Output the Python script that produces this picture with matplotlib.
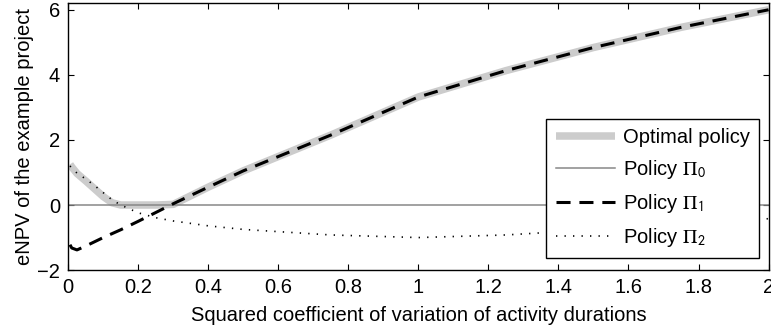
import matplotlib
matplotlib.use("Agg")
import matplotlib.pyplot as plt
import numpy as np

plt.rcParams['font.family'] = ['Liberation Sans', 'DejaVu Sans']
plt.rcParams['mathtext.fontset'] = 'stix'

# squared coefficient of variation (x) and eNPV of each policy
x_opt = [0.005, 0.01, 0.025, 0.05, 0.075, 0.1, 0.125, 0.15, 0.2, 0.25,
         0.3, 0.4, 0.5, 0.75, 1.0, 1.25, 1.5, 1.75, 2.0]
y_opt = [1.25, 1.17, 0.97, 0.74, 0.5, 0.26, 0.07, 0.0, 0.0, 0.0,
         0.02, 0.55, 1.05, 2.15, 3.32, 4.13, 4.84, 5.46, 6.0]

x_p0 = [0.0, 2.0]
y_p0 = [0.0, 0.0]

x_p1 = [0.005, 0.01, 0.025, 0.05, 0.1, 0.15, 0.2, 0.25, 0.3, 0.4, 0.5,
        0.75, 1.0, 1.25, 1.5, 1.75, 2.0]
y_p1 = [-1.22, -1.32, -1.38, -1.26, -1.0, -0.76, -0.5, -0.23, 0.04, 0.55,
        1.05, 2.15, 3.32, 4.13, 4.84, 5.46, 6.0]

x_p2 = [0.005, 0.01, 0.025, 0.05, 0.075, 0.1, 0.125, 0.15, 0.2, 0.25,
        0.3, 0.4, 0.5, 0.75, 1.0, 1.25, 1.5, 1.75, 2.0]
y_p2 = [1.2, 1.14, 0.98, 0.8, 0.6, 0.38, 0.16, 0.0, -0.24, -0.39,
        -0.49, -0.64, -0.75, -0.92, -1.0, -0.92, -0.76, -0.6, -0.42]

x_ticks = [0, 0.2, 0.4, 0.6, 0.8, 1.0, 1.2, 1.4, 1.6, 1.8, 2.0]
x_tick_labels = ['0', '0.2', '0.4', '0.6', '0.8', '1', '1.2', '1.4',
                 '1.6', '1.8', '2']
y_ticks = [-2, 0, 2, 4, 6]

fs = 14.5

fig = plt.figure(figsize=(7.71, 3.27), dpi=100)
ax = fig.add_axes([0.0885, 0.174, 0.9083, 0.816])

ax.plot(x_opt, y_opt, color='#cccccc', linewidth=5.4,
        solid_capstyle='butt', solid_joinstyle='round',
        label='Optimal policy')
ax.plot(x_p0, y_p0, color='#888888', linewidth=1.1,
        label=r'Policy $\Pi_{\mathsf{0}}$')
ax.plot(x_p1, y_p1, color='black', linewidth=2.2,
        dashes=(4.6, 2.9), label=r'Policy $\Pi_{\mathsf{1}}$')
ax.plot(x_p2, y_p2, color='black', linewidth=1.2,
        dashes=(0.8, 4.3), label=r'Policy $\Pi_{\mathsf{2}}$')

ax.set_xlim(0, 2)
ax.set_ylim(-2, 6.2)
ax.set_xticks(x_ticks)
ax.set_xticklabels(x_tick_labels)
ax.set_yticks(y_ticks)
ax.tick_params(direction='in', length=4, width=0.8, top=True, right=True,
               labelsize=fs, pad=6)
for s in ax.spines.values():
    s.set_linewidth(1.0)

ax.set_xlabel('Squared coefficient of variation of activity durations',
              fontsize=fs, labelpad=6)
ax.set_ylabel('eNPV of the example project', fontsize=fs, labelpad=2)

leg = ax.legend(loc='lower right', bbox_to_anchor=(0.9865, 0.045),
                borderaxespad=0, fontsize=fs, fancybox=False,
                edgecolor='black', framealpha=1, handlelength=2.95,
                handletextpad=0.4, labelspacing=0.55, borderpad=0.45)
leg.get_frame().set_linewidth(1.0)

fig.savefig('out.png', dpi=100)
